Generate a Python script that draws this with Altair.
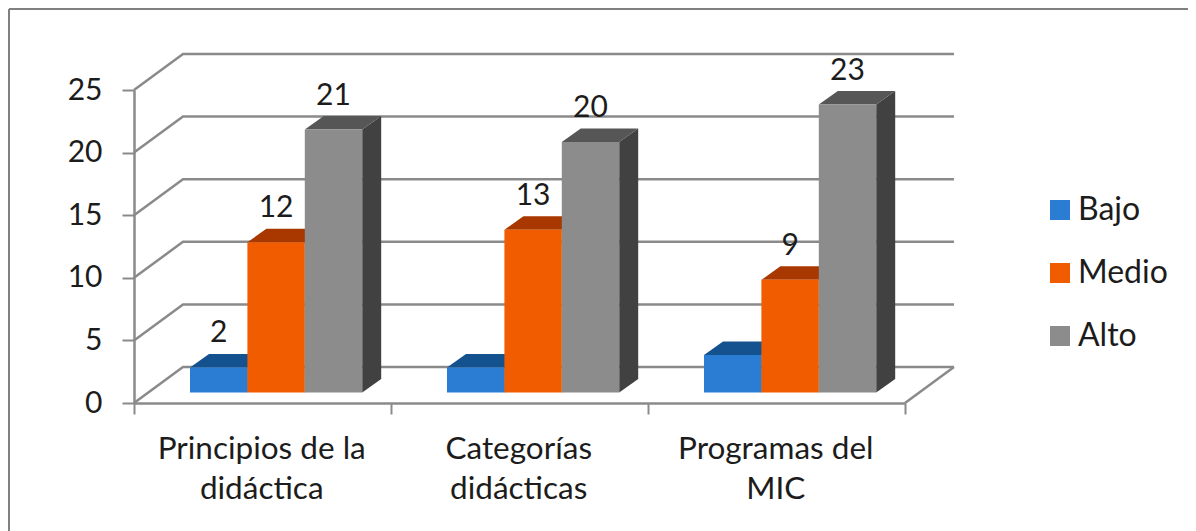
import altair as alt
import pandas as pd

categories = ["Principios de la\ndidáctica", "Categorías\ndidácticas", "Programas del\nMIC"]
series = ["Bajo", "Medio", "Alto"]
bajo = [2, 2, 3]
medio = [12, 13, 9]
alto = [21, 20, 23]
bajo_labels = ["2", "", ""]
medio_labels = ["12", "13", "9"]
alto_labels = ["21", "20", "23"]
y_ticks = [0, 5, 10, 15, 20, 25]
x_ticks = [0, 1, 2, 3]

front = ["#2B7CD3", "#F25C00", "#8C8C8C"]
top = ["#14528F", "#A83800", "#565656"]
side = ["#123F70", "#7E2A00", "#414141"]
GRID = "#8A8A8A"
FONT = "Lato"
TEXT = "#1c1c1c"

W, H = 771, 313
PX_X = W / 3
PX_Y = H / 25
WALL_DX, WALL_DY = 49 / PX_X, 36 / PX_Y
BAR_DX, BAR_DY = 19 / PX_X, 13.5 / PX_Y
START, BAR_W, BASE = 56 / PX_X, 57.4 / PX_X, 10.5 / PX_Y

xs = alt.Scale(domain=[0, 3], nice=False, zero=False)
ys = alt.Scale(domain=[0, 25], nice=False, zero=False)

# back wall grid lines
grid_rows = []
for v in y_ticks:
    grid_rows += [
        {"g": v, "x": 0, "y": v},
        {"g": v, "x": WALL_DX, "y": v + WALL_DY},
        {"g": v, "x": 3 + WALL_DX, "y": v + WALL_DY},
    ]
grid_rows += [{"g": -1, "x": 3, "y": 0}, {"g": -1, "x": 3 + WALL_DX, "y": WALL_DY}]

grid = alt.Chart(pd.DataFrame(grid_rows)).mark_line(color=GRID, strokeWidth=2.5).encode(
    x=alt.X("x:Q", scale=xs, axis=alt.Axis(
        values=x_ticks, labels=False, title=None, grid=False, tickSize=11, tickWidth=2,
        tickColor=GRID, domainColor=GRID, domainWidth=2.5)),
    y=alt.Y("y:Q", scale=ys, axis=alt.Axis(
        values=y_ticks, title=None, grid=False, tickSize=12, tickWidth=2, tickColor=GRID,
        domainColor=GRID, domainWidth=2.5, labelFont=FONT, labelFontSize=30,
        labelColor=TEXT, labelPadding=20)),
    detail="g:N",
)

layers = [grid]
for s, (name, vals) in enumerate(zip(series, [bajo, medio, alto])):
    side_rows, top_rows, front_rows = [], [], []
    for c, v in enumerate(vals):
        x0 = c + START + s * BAR_W
        x1 = x0 + BAR_W
        t = BASE + v
        side_rows += [
            {"c": c, "x": x1, "y": BASE, "y2": t},
            {"c": c, "x": x1 + BAR_DX, "y": BASE + BAR_DY, "y2": t + BAR_DY},
        ]
        top_rows += [
            {"c": c, "x": x0, "y": t, "y2": t},
            {"c": c, "x": x0 + BAR_DX, "y": t, "y2": t + BAR_DY},
            {"c": c, "x": x1, "y": t, "y2": t + BAR_DY},
            {"c": c, "x": x1 + BAR_DX, "y": t + BAR_DY, "y2": t + BAR_DY},
        ]
        front_rows.append({"serie": name, "x": x0, "x2": x1, "y": BASE, "y2": t})
    for rows, col in ((side_rows, side[s]), (top_rows, top[s])):
        layers.append(alt.Chart(pd.DataFrame(rows)).mark_area(color=col, opacity=1).encode(
            x=alt.X("x:Q", scale=xs),
            y=alt.Y("y:Q", scale=ys),
            y2="y2:Q",
            detail="c:N",
        ))
    layers.append(alt.Chart(pd.DataFrame(front_rows)).mark_rect().encode(
        x=alt.X("x:Q", scale=xs),
        x2="x2:Q",
        y=alt.Y("y:Q", scale=ys),
        y2="y2:Q",
        color=alt.Color("serie:N", scale=alt.Scale(domain=series, range=front), legend=alt.Legend(
            title=None, orient="none", legendX=910, legendY=104, symbolType="square", symbolSize=400,
            symbolStrokeWidth=0, labelFont=FONT, labelFontSize=32, labelColor=TEXT, rowPadding=31,
            labelOffset=2, padding=0, labelLimit=200)),
    ))

# value labels
label_rows = []
for s, labs in enumerate([bajo_labels, medio_labels, alto_labels]):
    vals = [bajo, medio, alto][s]
    for c, lab in enumerate(labs):
        if lab:
            label_rows.append({"x": c + START + (s + 0.5) * BAR_W, "y": BASE + vals[c], "t": lab})
value_text = alt.Chart(pd.DataFrame(label_rows)).mark_text(
    font=FONT, fontSize=30, color=TEXT, baseline="middle", dy=-34
).encode(x=alt.X("x:Q", scale=xs), y=alt.Y("y:Q", scale=ys), text="t:N")

# category labels
cat_df = pd.DataFrame({"x": [i + 0.497 for i in range(3)], "t": categories})
cat_text = alt.Chart(cat_df).mark_text(
    font=FONT, fontSize=31.5, color=TEXT, baseline="top", lineBreak="\n", lineHeight=40
).encode(x=alt.X("x:Q", scale=xs), y=alt.value(344), text="t:N")

# outer frame (open at right and bottom, as in the picture)
frame_top = alt.Chart(pd.DataFrame({"a": [0]})).mark_rule(color="#808080", strokeWidth=2).encode(
    x=alt.value(-125), x2=alt.value(1054), y=alt.value(-81))
frame_left = alt.Chart(pd.DataFrame({"a": [0]})).mark_rule(color="#808080", strokeWidth=2).encode(
    x=alt.value(-125), y=alt.value(-81), y2=alt.value(441))

chart = alt.layer(frame_top, frame_left, *layers, value_text, cat_text).properties(
    width=W, height=H,
    padding={"left": 126, "top": 82, "right": 283, "bottom": 128},
    autosize=alt.AutoSizeParams(type="none"),
    background="white",
).configure_view(stroke=None)

chart.save("out.html", embed_options={"renderer": "svg", "actions": False})
